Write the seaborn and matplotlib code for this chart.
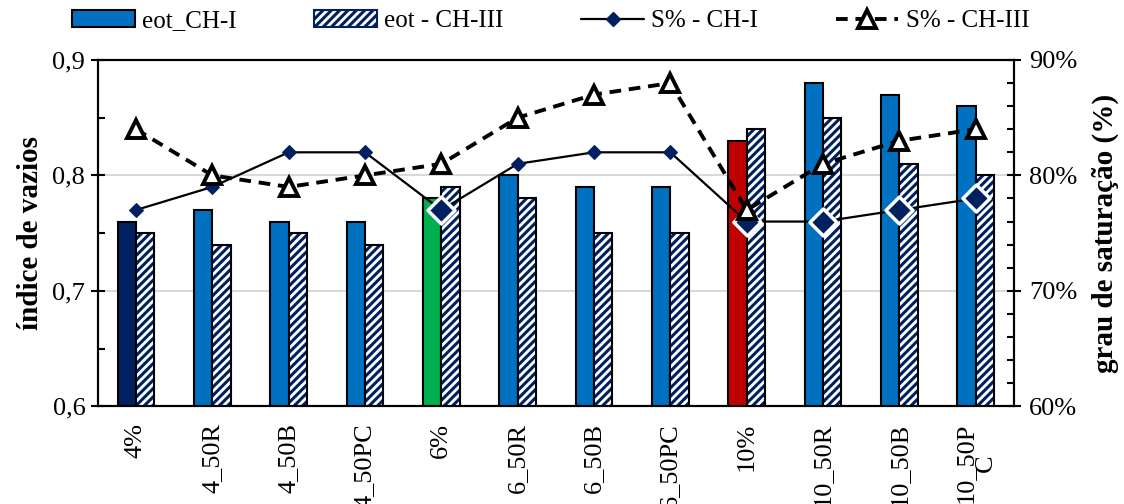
import numpy as np
import pandas as pd
import matplotlib
matplotlib.use("Agg")
import matplotlib.pyplot as plt
import seaborn as sns
from matplotlib.patches import Patch, Rectangle
from matplotlib.lines import Line2D
from matplotlib.ticker import FuncFormatter, MultipleLocator

categorias = ["4%", "4_50R", "4_50B", "4_50PC", "6%", "6_50R", "6_50B", "6_50PC",
              "10%", "10_50R", "10_50B", "10_50P\nC"]
eot_ch1 = [0.76, 0.77, 0.76, 0.76, 0.78, 0.80, 0.79, 0.79, 0.83, 0.88, 0.87, 0.86]
eot_ch3 = [0.75, 0.74, 0.75, 0.74, 0.79, 0.78, 0.75, 0.75, 0.84, 0.85, 0.81, 0.80]
s_ch1 = [77, 79, 82, 82, 77, 81, 82, 82, 76, 76, 77, 78]
s_ch3 = [84, 80, 79, 80, 81, 85, 87, 88, 77, 81, 83, 84]
# pontos com losango grande (borda branca)
destaque = [4, 8, 9, 10, 11]

azul = "#0070C0"
navy = "#002060"
cores_ch1 = [navy, azul, azul, azul, "#00B050", azul, azul, azul, "#C00000", azul, azul, azul]

sns.set_theme(style="white")
plt.rcParams["font.family"] = ["Liberation Serif", "DejaVu Serif"]
plt.rcParams["hatch.linewidth"] = 2.2
plt.rcParams["text.color"] = "black"
plt.rcParams["axes.labelcolor"] = "black"
plt.rcParams["xtick.color"] = "black"
plt.rcParams["ytick.color"] = "black"

df = pd.DataFrame({
    "cat": categorias * 2,
    "eot": eot_ch1 + eot_ch3,
    "serie": ["eot_CH-I"] * 12 + ["eot - CH-III"] * 12,
})

fig = plt.figure(figsize=(11.24, 5.04), dpi=100)
ax = fig.add_axes([0.087, 0.194, 0.815, 0.687])

sns.barplot(data=df, x="cat", y="eot", hue="serie", order=categorias,
            hue_order=["eot_CH-I", "eot - CH-III"], width=0.48, ax=ax,
            legend=False, errorbar=None)

for p, c in zip(ax.containers[0], cores_ch1):
    p.set_facecolor(c)
    p.set_edgecolor("black")
    p.set_linewidth(1.5)
for p in ax.containers[1]:
    p.set_facecolor("white")
    p.set_edgecolor(navy)
    p.set_hatch("////")
    p.set_linewidth(0)
    ax.add_patch(Rectangle(p.get_xy(), p.get_width(), p.get_height(),
                           fill=False, edgecolor="black", linewidth=1.5, zorder=3))

ax.set_ylim(0.6, 0.9)
ax.set_xlim(-0.5, 11.5)
ax.yaxis.set_major_locator(MultipleLocator(0.1))
ax.yaxis.set_minor_locator(MultipleLocator(0.05))
ax.yaxis.set_major_formatter(FuncFormatter(lambda v, p: f"{v:.1f}".replace(".", ",")))
ax.grid(axis="y", color="#d9d9d9", linewidth=1.5)
ax.set_axisbelow(True)
ax.set_xlabel("")
ax.set_ylabel("índice de vazios", fontsize=21, fontweight="bold", labelpad=6)
ax.set_xticks(np.arange(12))
ax.set_xticklabels(categorias, rotation=90, fontsize=19, va="top", linespacing=0.85)
ax.set_xticks(np.arange(-0.5, 12, 1), minor=True)
ax.tick_params(axis="x", which="major", length=0, pad=12)
ax.tick_params(axis="x", which="minor", length=10, width=1.5, direction="inout")
ax.tick_params(axis="y", which="major", labelsize=19, direction="inout", length=10, width=1.5,
               left=True, pad=4)
ax.tick_params(axis="y", which="minor", direction="in", length=5, width=1.5, left=True)
for s in ax.spines.values():
    s.set_color("black")
    s.set_linewidth(1.5)

ax2 = ax.twinx()
pos = np.arange(12)
sns.lineplot(x=pos, y=s_ch1, ax=ax2, color="black", linewidth=1.6, marker="D",
             markersize=7, markerfacecolor=navy, markeredgecolor=navy, zorder=4)
sns.scatterplot(x=pos[destaque], y=np.array(s_ch1)[destaque], ax=ax2, marker="D",
                s=190, color=navy, edgecolor="white", linewidth=2.5, zorder=5)
sns.lineplot(x=pos, y=s_ch3, ax=ax2, color="black", linewidth=2.8, linestyle=(0, (3, 2)),
             marker="^", markersize=13, markerfacecolor="white", markeredgecolor="black",
             markeredgewidth=2.8, zorder=6)

ax2.set_ylim(60, 90)
ax2.set_xlim(-0.5, 11.5)
ax2.yaxis.set_major_locator(MultipleLocator(10))
ax2.yaxis.set_minor_locator(MultipleLocator(2))
ax2.yaxis.set_major_formatter(FuncFormatter(lambda v, p: f"{v:.0f}%"))
ax2.tick_params(axis="y", which="major", labelsize=19, direction="inout", length=10, width=1.5,
                right=True, pad=6)
ax2.tick_params(axis="y", which="minor", direction="in", length=5, width=1.5, right=True)
ax2.set_ylabel("grau de saturação (%)", fontsize=21, fontweight="bold", labelpad=10)
ax2.grid(False)
for s in ax2.spines.values():
    s.set_color("black")
    s.set_linewidth(1.5)

handles = [
    Patch(facecolor=azul, edgecolor="black", linewidth=1.5),
    Patch(facecolor="white", edgecolor=navy, hatch="////", linewidth=1.5),
    Line2D([], [], color="black", linewidth=1.6, marker="D", markersize=7,
           markerfacecolor=navy, markeredgecolor=navy),
    Line2D([], [], color="black", linewidth=2.8, linestyle=(0, (3, 2)), marker="^",
           markersize=13, markerfacecolor="white", markeredgecolor="black", markeredgewidth=2.8),
]
labels = ["eot_CH-I", "eot - CH-III", "S% - CH-I", "S% - CH-III"]
fig.legend(handles, labels, loc="upper center", bbox_to_anchor=(0.49, 1.025), ncol=4,
           frameon=False, fontsize=18, handlelength=2.5, handleheight=0.7,
           columnspacing=3.1, handletextpad=0.3)

fig.savefig("out.png", dpi=100)
